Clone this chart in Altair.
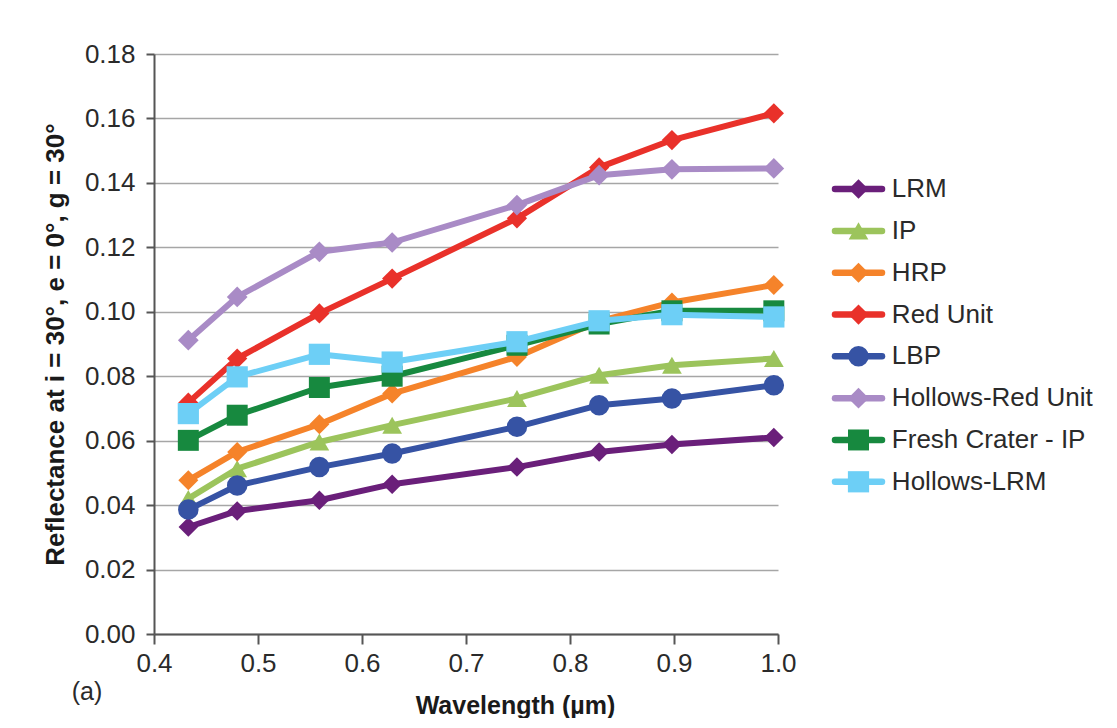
import altair as alt
import pandas as pd

# ---------------- data ----------------
wavelengths = [0.433, 0.480, 0.559, 0.629, 0.749, 0.828, 0.898, 0.996]

series_names = ["LRM", "IP", "HRP", "Red Unit", "LBP",
                "Hollows-Red Unit", "Fresh Crater - IP", "Hollows-LRM"]

lrm          = [0.0332, 0.0382, 0.0415, 0.0465, 0.0518, 0.0565, 0.0588, 0.0610]
ip           = [0.0420, 0.0513, 0.0596, 0.0648, 0.0731, 0.0803, 0.0834, 0.0855]
hrp          = [0.0477, 0.0565, 0.0651, 0.0746, 0.0860, 0.0971, 0.1029, 0.1083]
red_unit     = [0.0718, 0.0855, 0.0995, 0.1103, 0.1290, 0.1448, 0.1533, 0.1616]
lbp          = [0.0386, 0.0461, 0.0518, 0.0560, 0.0643, 0.0710, 0.0731, 0.0772]
hollows_red  = [0.0912, 0.1046, 0.1186, 0.1215, 0.1331, 0.1424, 0.1442, 0.1445]
fresh_crater = [0.0601, 0.0679, 0.0765, 0.0800, 0.0896, 0.0962, 0.1003, 0.1003]
hollows_lrm  = [0.0684, 0.0798, 0.0868, 0.0844, 0.0907, 0.0972, 0.0991, 0.0984]

series_values = [lrm, ip, hrp, red_unit, lbp, hollows_red, fresh_crater, hollows_lrm]

y_ticks = [0.00, 0.02, 0.04, 0.06, 0.08, 0.10, 0.12, 0.14, 0.16, 0.18]
x_ticks = [0.4, 0.5, 0.6, 0.7, 0.8, 0.9, 1.0]

# ---------------- styles ----------------
series_colors = ["#6a1f7a", "#9cc45c", "#f5832a", "#e9312a", "#3653a4",
                 "#a98bc6", "#17893f", "#6dcff6"]
series_shapes = ["diamond", "triangle-up", "diamond", "diamond", "circle",
                 "diamond", "square", "square"]
marker_sizes = [380, 450, 380, 380, 420, 380, 420, 420]
legend_marker_sizes = [230, 270, 230, 230, 260, 230, 260, 260]

FONT = "Liberation Sans, Arial, Helvetica, sans-serif"
TEXT_COLOR = "#2a2a2a"

rows = []
for name, vals in zip(series_names, series_values):
    for w, v in zip(wavelengths, vals):
        rows.append({"series": name, "wavelength": w, "reflectance": v})
df = pd.DataFrame(rows)

color_scale = alt.Scale(domain=series_names, range=series_colors)
shape_scale = alt.Scale(domain=series_names, range=series_shapes)
size_scale = alt.Scale(domain=series_names, range=marker_sizes)
legend_size_scale = alt.Scale(domain=series_names, range=legend_marker_sizes)

x_enc = alt.X(
    "wavelength:Q",
    scale=alt.Scale(domain=[0.4, 1.0], nice=False, zero=False),
    axis=alt.Axis(
        values=x_ticks, format=".1f", grid=False,
        title="Wavelength (µm)", titleFontSize=25, titleFontWeight="bold",
        titleX=361, titleY=79, titleBaseline="alphabetic", titleAlign="center",
        tickSize=10, labelPadding=6, labelFlush=False, labelOverlap=False,
    ),
)
y_enc = alt.Y(
    "reflectance:Q",
    scale=alt.Scale(domain=[0, 0.18], nice=False),
    axis=alt.Axis(
        values=y_ticks, format=".2f", grid=True,
        title="Reflectance at i = 30°, e = 0°, g = 30°",
        titleFontSize=26, titleFontWeight="bold", titlePadding=16,
        tickSize=8, labelPadding=11, labelFlush=False, labelOverlap=False,
    ),
)

base = alt.Chart(df)
layers = []
for name in series_names:
    sub = base.transform_filter(alt.datum.series == name)
    line = sub.mark_line(strokeWidth=6, strokeJoin="round", strokeCap="round").encode(
        x=x_enc, y=y_enc,
        color=alt.Color("series:N", scale=color_scale, legend=None),
    )
    pts = sub.mark_point(filled=True, opacity=1, strokeWidth=0).encode(
        x=x_enc, y=y_enc,
        color=alt.Color("series:N", scale=color_scale, legend=None),
        shape=alt.Shape("series:N", scale=shape_scale, legend=None),
        size=alt.Size("series:N", scale=size_scale, legend=None),
    )
    layers += [line, pts]

panel_label = alt.Chart(pd.DataFrame({"label": ["(a)"]})).mark_text(
    fontSize=25, font=FONT, color=TEXT_COLOR, align="center", baseline="middle"
).encode(text="label:N", x=alt.value(-67), y=alt.value(638))

main = alt.layer(*layers, panel_label).properties(width=624, height=580)

# ---------------- legend panel ----------------
legend_df = pd.DataFrame({"series": series_names, "row": list(range(len(series_names)))})
ly = alt.Y("row:Q", axis=None,
           scale=alt.Scale(domain=[-3.23, 10.64], reverse=True, nice=False, zero=False))
lx_scale = alt.Scale(domain=[0, 200 / 47], nice=False, zero=False)
leg_base = alt.Chart(legend_df).transform_calculate(
    x0="0", x1="1", xm="0.5", xt="1.21"
)
leg_rule = leg_base.mark_rule(strokeWidth=6.5, strokeCap="round").encode(
    x=alt.X("x0:Q", scale=lx_scale, axis=None), x2="x1:Q", y=ly,
    color=alt.Color("series:N", scale=color_scale, legend=None),
)
leg_pts = leg_base.mark_point(filled=True, opacity=1, strokeWidth=0).encode(
    x=alt.X("xm:Q", scale=lx_scale, axis=None), y=ly,
    color=alt.Color("series:N", scale=color_scale, legend=None),
    shape=alt.Shape("series:N", scale=shape_scale, legend=None),
    size=alt.Size("series:N", scale=legend_size_scale, legend=None),
)
leg_text = leg_base.mark_text(
    align="left", baseline="middle", fontSize=26, font=FONT, color=TEXT_COLOR
).encode(x=alt.X("xt:Q", scale=lx_scale, axis=None), y=ly, text="series:N")

legend = alt.layer(leg_rule, leg_pts, leg_text).properties(width=200, height=580)

chart = alt.hconcat(main, legend, spacing=57, bounds="flush").properties(
    padding={"left": 34, "top": 33, "right": 2, "bottom": 0},
    background="white",
).configure_view(stroke=None).configure_axis(
    labelFont=FONT, titleFont=FONT, labelFontSize=26, labelColor=TEXT_COLOR,
    titleColor="#1a1a1a", domainColor="#555555", domainWidth=2,
    tickColor="#555555", tickWidth=2, gridColor="#a6a6a6", gridWidth=1.5,
).configure_text(font=FONT)

chart.save("out.html", embed_options={"renderer": "svg", "actions": False})
